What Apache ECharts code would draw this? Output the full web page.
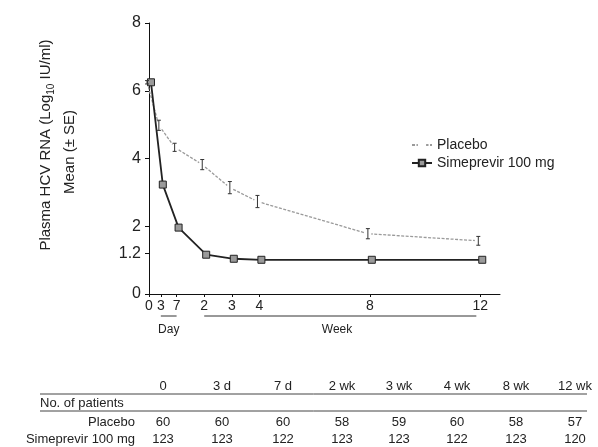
<!DOCTYPE html>
<html>
<head>
<meta charset="utf-8">
<script src="https://cdn.jsdelivr.net/npm/echarts@6/dist/echarts.min.js"></script>
<style>
  html, body { margin: 0; padding: 0; background: #fff; }
  #chart { width: 598px; height: 447px; }
</style>
</head>
<body>
<div id="chart"></div>
<script>
// time points in days (0, 3 d, 7 d, 2, 3, 4, 8, 12 wk)
var timeDays = [0, 3, 7, 14, 21, 28, 56, 84]
var tickLabels = ['0', '3', '7', '2', '3', '4', '8', '12']
var yTicks = [0, 1.2, 2, 4, 6, 8]

var placebo = [6.25, 4.98, 4.33, 3.82, 3.14, 2.73, 1.78, 1.57]
var placeboSE = [0.05, 0.15, 0.12, 0.15, 0.18, 0.18, 0.15, 0.13]
var simeprevir = [6.25, 3.23, 1.96, 1.16, 1.04, 1.01, 1.01, 1.01]

var tableHeaders = ['0', '3 d', '7 d', '2 wk', '3 wk', '4 wk', '8 wk', '12 wk']
var placeboN = [60, 60, 60, 58, 59, 60, 58, 57]
var simeprevirN = [123, 123, 122, 123, 123, 122, 123, 120]

var txt = '#222'
var font = 'Liberation Sans, Arial, sans-serif'

// small dodge so the two series don't sit on top of each other
var dodge = 0.5
var placeboData = timeDays.map(function (d, i) { return [d - dodge, placebo[i]] })
var simeData = timeDays.map(function (d, i) { return [d + dodge, simeprevir[i]] })
var errData = timeDays.map(function (d, i) { return [d - dodge, placebo[i] - placeboSE[i], placebo[i] + placeboSE[i]] })

var chart = echarts.init(document.getElementById('chart'))

var option = {
  backgroundColor: '#fff',
  animation: false,
  textStyle: { fontFamily: font, color: txt },
  grid: { left: 149, right: 98, top: 23, bottom: 153 },
  legend: {
    orient: 'vertical',
    left: 406,
    top: 133,
    itemGap: 4,
    itemWidth: 20,
    itemHeight: 8,
    textStyle: { fontSize: 14, color: txt, fontFamily: font },
    data: ['Placebo', 'Simeprevir 100 mg']
  },
  xAxis: {
    type: 'value',
    min: 0,
    max: 89,
    splitLine: { show: false },
    axisLine: { lineStyle: { color: '#111', width: 1 } },
    axisTick: { customValues: timeDays, length: 3, lineStyle: { color: '#111' } },
    axisLabel: {
      customValues: timeDays,
      fontSize: 14,
      color: txt,
      margin: 5,
      formatter: function (v) {
        var i = timeDays.indexOf(v)
        return i >= 0 ? tickLabels[i] : ''
      }
    }
  },
  yAxis: {
    type: 'value',
    min: 0,
    max: 8,
    splitLine: { show: false },
    axisLine: { show: true, lineStyle: { color: '#111', width: 1 } },
    axisTick: { show: true, customValues: yTicks, length: 4, lineStyle: { color: '#111' } },
    axisLabel: { customValues: yTicks, fontSize: 16, color: txt, margin: 8 }
  },
  series: [
    {
      name: 'Placebo',
      type: 'line',
      data: placeboData,
      clip: false,
      symbol: 'emptyCircle',
      symbolSize: 5,
      itemStyle: { color: '#fff', borderColor: '#777', borderWidth: 1 },
      lineStyle: { color: '#9a9a9a', width: 1.3, type: [3, 1.5] },
      z: 3
    },
    {
      name: 'Simeprevir 100 mg',
      type: 'line',
      data: simeData,
      clip: false,
      symbol: 'rect',
      symbolSize: 7,
      itemStyle: { color: '#9a9a9a', borderColor: '#222', borderWidth: 1 },
      lineStyle: { color: '#222', width: 1.8 },
      z: 4
    },
    {
      type: 'custom',
      name: 'err',
      data: errData,
      clip: false,
      z: 5,
      renderItem: function (params, api) {
        var x = api.value(0)
        var lo = api.coord([x, api.value(1)])
        var hi = api.coord([x, api.value(2)])
        var w = 2
        var st = { stroke: '#333', lineWidth: 1 }
        return {
          type: 'group',
          children: [
            { type: 'line', shape: { x1: lo[0], y1: lo[1], x2: hi[0], y2: hi[1] }, style: st },
            { type: 'line', shape: { x1: lo[0] - w, y1: lo[1], x2: lo[0] + w, y2: lo[1] }, style: st },
            { type: 'line', shape: { x1: hi[0] - w, y1: hi[1], x2: hi[0] + w, y2: hi[1] }, style: st }
          ]
        }
      }
    }
  ]
}
chart.setOption(option)

// extra annotations: Day / Week brackets, y title, patient table
function px(d) { return chart.convertToPixel({ gridIndex: 0 }, [d, 0])[0] }

var g = []
var bracketY = 316
g.push({ type: 'line', shape: { x1: px(3), y1: bracketY, x2: px(7), y2: bracketY }, style: { stroke: '#333', lineWidth: 1 } })
g.push({ type: 'line', shape: { x1: px(14), y1: bracketY, x2: px(83), y2: bracketY }, style: { stroke: '#333', lineWidth: 1 } })
g.push({ type: 'text', x: (px(3) + px(7)) / 2, y: 330, style: { text: 'Day', fontSize: 12, fill: txt, font: '12px ' + font, align: 'center', verticalAlign: 'middle' } })
g.push({ type: 'text', x: 337, y: 330, style: { text: 'Week', fontSize: 12, fill: txt, font: '12px ' + font, align: 'center', verticalAlign: 'middle' } })

// y axis title (rotated)
g.push({
  type: 'text', x: 46, y: 145, rotation: Math.PI / 2,
  style: {
    text: '{a|Plasma HCV RNA (Log}{s|10}{a| IU/ml)}',
    align: 'center', verticalAlign: 'middle',
    rich: {
      a: { fontSize: 15, fontFamily: font, fill: txt, lineHeight: 20 },
      s: { fontSize: 10, fontFamily: font, fill: txt, lineHeight: 20, verticalAlign: 'bottom', padding: [0, 0, 0, 0] }
    }
  }
})
g.push({ type: 'text', x: 70, y: 152, rotation: Math.PI / 2, style: { text: 'Mean (\u00b1 SE)', fontSize: 15, fontFamily: font, fill: txt, align: 'center', verticalAlign: 'middle' } })

// table
var cols = [163, 222, 283, 342, 399, 457, 516, 575]
var rowHeader = 386, rowNo = 403, rowP = 422, rowS = 439
function t(text, x, y, align) {
  return { type: 'text', x: x, y: y, style: { text: text, fontSize: 13, fontFamily: font, fill: txt, align: align || 'center', verticalAlign: 'middle' } }
}
tableHeaders.forEach(function (h, i) { g.push(t(h, cols[i], rowHeader)) })
g.push({ type: 'line', shape: { x1: 40, y1: 394, x2: 587, y2: 394 }, style: { stroke: '#444', lineWidth: 1 } })
g.push(t('No. of patients', 40, rowNo, 'left'))
g.push({ type: 'line', shape: { x1: 40, y1: 411, x2: 587, y2: 411 }, style: { stroke: '#444', lineWidth: 1 } })
g.push(t('Placebo', 135, rowP, 'right'))
g.push(t('Simeprevir 100 mg', 135, rowS, 'right'))
placeboN.forEach(function (n, i) { g.push(t(String(n), cols[i], rowP)) })
simeprevirN.forEach(function (n, i) { g.push(t(String(n), cols[i], rowS)) })

chart.setOption({ graphic: g })
</script>
</body>
</html>
